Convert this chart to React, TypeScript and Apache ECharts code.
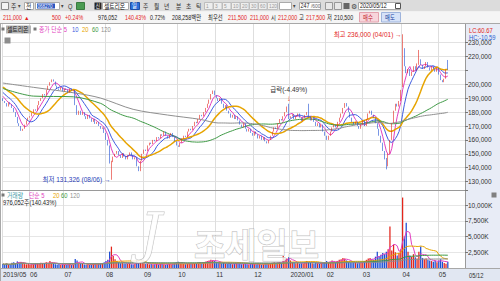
import React, { useEffect, useRef } from "react";
import * as echarts from "echarts";

const RED = "#e3261c";
const BLUE = "#1f4fd3";
const C5 = "#e23fc0";
const C10 = "#3d5be0";
const C20 = "#e7a400";
const C60 = "#3f9a46";
const C120 = "#8f8f8f";
const FONT = 'Liberation Sans, "Noto Sans CJK KR", sans-serif';

// KRX holidays in the period
const holidays = [
  "2019-06-06", "2019-08-15", "2019-09-12", "2019-09-13", "2019-10-03", "2019-10-09",
  "2019-12-25", "2019-12-31", "2020-01-01", "2020-01-24", "2020-01-27", "2020-04-15",
  "2020-04-30", "2020-05-01", "2020-05-05",
];

// closes (thousand KRW) for the 19 sessions before the first shown day (MA warm-up)
const priorCloses = [205, 204, 206, 203, 201, 202, 200, 199, 201, 198, 197, 199, 196, 195, 197, 194, 192, 193, 190];

// daily closes (thousand KRW)
const closesMay19 = [188, 186.5, 184, 187, 185.5, 183, 180, 176.5, 172, 170, 166.5, 168, 171, 174, 176];
const closesJun19 = [177, 179.5, 182, 181, 185, 188, 190, 193, 192, 196, 199, 201.5, 203.5, 202, 199, 197, 196, 198, 195];
const closesJul19 = [197, 196, 194, 197, 195.5, 196, 185, 178, 181, 178, 180, 177, 175, 178, 175.5, 173, 175, 171.5, 173, 170, 168, 169, 165];
const closesAug19 = [160, 156, 143, 144, 148, 150, 152, 149, 147, 150.5, 148, 146, 149, 151, 148.5, 146, 147.5, 141, 137.5, 145, 150];
const closesSep19 = [153, 152, 156, 158, 157, 160, 159, 162, 161, 164, 163, 166, 163, 161, 163.5, 165, 162, 159, 156];
const closesOct19 = [155, 158, 161, 163, 162, 166, 168, 167, 170, 173, 172, 175, 178, 177, 180, 183, 186, 189, 193, 195.5, 192];
const closesNov19 = [190, 188, 190, 186, 183, 185, 181, 179, 176, 178, 175, 177, 174, 171, 169, 172, 168, 166, 168, 165, 163];
const closesDec19 = [166, 164, 161, 163, 160, 162, 159, 157.5, 160, 163, 166, 169, 168, 172, 175, 174, 177, 180, 184, 175.7];
const closesJan20 = [177, 178.5, 175, 177, 179, 176, 173.5, 176, 178, 180, 177, 174, 176, 173, 170, 172, 169, 171, 166, 163];
const closesFeb20 = [160, 163, 166, 169, 171, 169, 173, 176, 179, 183, 186.5, 184, 180, 176, 173, 171, 173, 170, 168, 171];
const closesMar20 = [174, 170, 175, 179, 181, 178, 176, 172, 168, 163, 158, 152, 146, 141, 150, 160, 172, 181, 186, 184, 188, 196];
const closesApr20 = [226, 213, 208, 211, 206, 209, 213, 210, 215, 218, 214, 211, 213, 216, 212, 210, 213, 211, 209, 212];
const closesMay20 = [207, 203, 201.5, 204, 210.5, 211];

// full candles where open/low/high are known: date, open, close, low, high (thousand KRW)
const candleOverrides: [string, number, number, number, number][] = [
  ["2019-08-06", 139, 144, 131.326, 145],
  ["2019-12-30", 184.5, 175.7, 175, 186],
  ["2020-01-16", 180, 177, 176, 186],
  ["2020-03-19", 146, 141, 138.8, 147],
  ["2020-04-01", 200, 226, 198, 236],
  ["2020-04-14", 215, 218, 214, 224.7],
  ["2020-05-12", 212, 211, 210.5, 217.5],
];

// daily volume (thousand shares)
const volMay19 = [620, 540, 700, 480, 560, 820, 900, 760, 1050, 880, 940, 700, 620, 580, 650];
const volJun19 = [520, 610, 580, 700, 760, 680, 820, 740, 690, 900, 780, 1100, 850, 720, 600, 560, 640, 520, 580];
const volJul19 = [500, 460, 540, 610, 480, 520, 1450, 1200, 820, 700, 640, 560, 520, 600, 480, 540, 620, 700, 560, 640, 720, 800, 900];
const volAug19 = [1100, 1300, 2600, 3400, 1900, 1400, 1100, 900, 760, 820, 700, 620, 680, 740, 600, 560, 640, 1200, 1000, 900, 820];
const volSep19 = [760, 640, 700, 580, 620, 540, 600, 680, 560, 620, 700, 580, 520, 600, 640, 560, 700, 820, 900];
const volOct19 = [1000, 760, 700, 640, 600, 680, 740, 620, 700, 800, 760, 860, 920, 780, 900, 1000, 1100, 1200, 1300, 1250, 1100];
const volNov19 = [980, 860, 900, 760, 820, 700, 640, 720, 660, 600, 680, 740, 620, 700, 580, 640, 700, 600, 560, 620, 680];
const volDec19 = [640, 580, 700, 620, 560, 600, 760, 680, 620, 700, 820, 900, 760, 860, 940, 820, 1900, 1300, 1500, 1700];
const volJan20 = [1200, 900, 860, 760, 820, 700, 760, 680, 900, 1100, 1000, 860, 760, 700, 820, 760, 680, 740, 820, 960];
const volFeb20 = [1100, 900, 1000, 1200, 1000, 900, 1100, 1300, 1400, 1600, 1500, 1200, 1000, 900, 800, 860, 900, 760, 820, 900];
const volMar20 = [1000, 1100, 1300, 1500, 1600, 1400, 1300, 1800, 2600, 1900, 2100, 2400, 2200, 2600, 3000, 6600, 2800, 3700, 2500, 2000, 2400, 3000];
const volApr20 = [11200, 5000, 7200, 2600, 2000, 1800, 2200, 1700, 1500, 2600, 3400, 1600, 1400, 1500, 1300, 1200, 1100, 1000, 1200, 900];
const volMay20 = [1200, 1400, 1000, 800, 695, 976.052];

const ma60AnchorIdx = [0, 17, 39, 54];
const ma60AnchorVal = [197, 191.5, 191, 186.3];
const ma120AnchorIdx = [0, 17, 41, 54, 72, 91, 109];
const ma120AnchorVal = [200.9, 197.8, 193.5, 190.1, 182, 177.9, 174.8];

const priceTicks = [130000, 140000, 150000, 160000, 170000, 180000, 190000, 200000, 210000, 220000, 230000];
const priceLabelTicks = [130000, 140000, 150000, 160000, 170000, 180000, 190000, 200000, 220000, 230000];

function tradingDays(): string[] {
  const out: string[] = [];
  const d = new Date(Date.UTC(2019, 4, 13));
  const end = Date.UTC(2020, 4, 12);
  while (d.getTime() <= end) {
    const wd = d.getUTCDay();
    const s = d.toISOString().slice(0, 10);
    if (wd !== 0 && wd !== 6 && holidays.indexOf(s) < 0) out.push(s);
    d.setUTCDate(d.getUTCDate() + 1);
  }
  return out;
}

function buildOption() {
  const dates = tradingDays();
  const closes = [
    ...closesMay19, ...closesJun19, ...closesJul19, ...closesAug19, ...closesSep19, ...closesOct19,
    ...closesNov19, ...closesDec19, ...closesJan20, ...closesFeb20, ...closesMar20, ...closesApr20, ...closesMay20,
  ];
  const vols = [
    ...volMay19, ...volJun19, ...volJul19, ...volAug19, ...volSep19, ...volOct19,
    ...volNov19, ...volDec19, ...volJan20, ...volFeb20, ...volMar20, ...volApr20, ...volMay20,
  ];
  const n = closes.length;
  const cats = dates.slice(0, n);
  const padded = cats.concat(["", "", "", "", "", "", "", "", ""]);

  const ohlc = closes.map((c, i) => {
    const ov = candleOverrides.find((o) => o[0] === cats[i]);
    if (ov) return [ov[1] * 1000, ov[2] * 1000, ov[3] * 1000, ov[4] * 1000];
    const o = i === 0 ? priorCloses[priorCloses.length - 1] : closes[i - 1];
    return [o * 1000, c * 1000, Math.min(o, c) * 1000, Math.max(o, c) * 1000];
  });
  const up = ohlc.map((k) => k[1] >= k[0]);

  const full = priorCloses.concat(closes);
  const p = priorCloses.length;
  const shortMA = (len: number) =>
    closes.map((_, i) => {
      let s = 0;
      for (let k = 0; k < len; k++) s += full[p + i - k];
      return Math.round((s / len) * 1000);
    });
  const longMA = (len: number, aIdx: number[], aVal: number[]) =>
    closes.map((_, i) => {
      if (i >= len - 1) {
        let s = 0;
        for (let k = 0; k < len; k++) s += closes[i - k];
        return Math.round((s / len) * 1000);
      }
      const j = aIdx.indexOf(i);
      return j >= 0 ? aVal[j] * 1000 : null;
    });
  const volMA = (len: number) =>
    vols.map((_, i) => {
      const a = Math.max(0, i - len + 1);
      let s = 0;
      for (let k = a; k <= i; k++) s += vols[k];
      return Math.round((s / (i - a + 1)) * 1000);
    });

  const isMonthStart = (idx: number) =>
    idx < n && (idx === 0 || cats[idx].slice(0, 7) !== cats[idx - 1].slice(0, 7));

  const lastClose = closes[n - 1] * 1000;
  const lastVol = Math.round(vols[n - 1] * 1000);

  const maLine = (name: string, data: any[], color: string, width: number, xi: number, connect = false) => ({
    type: "line",
    name,
    xAxisIndex: xi,
    yAxisIndex: xi,
    data,
    symbol: "none",
    connectNulls: connect,
    smooth: connect ? 0.3 : false,
    lineStyle: { color, width },
    z: 3,
    silent: true,
  });

  const T = (x: number, y: number, text: string, fill: string, size = 7, sx = 0.82, extra: any = {}) => ({
    type: "text",
    x,
    y,
    scaleX: sx,
    z: 50,
    style: { text, fill, fontSize: size, fontFamily: FONT, verticalAlign: "middle", ...extra },
  });
  const R = (x: number, y: number, w: number, h: number, fill: string, stroke?: string, z = 40) => ({
    type: "rect",
    shape: { x, y, width: w, height: h },
    z,
    style: { fill, stroke: stroke || null, lineWidth: stroke ? 1 : 0 },
  });

  const graphics: any[] = [
    // backgrounds
    R(0, 0, 500, 11.5, "#dcdcdc", undefined, -5),
    R(0, 11.5, 500, 12, "#f5f5f5", undefined, -5),
    R(465, 24, 35, 244, "#e8ecf6", undefined, -5),
    R(0, 268.5, 500, 12.5, "#e1e7f2", undefined, -5),
    { type: "line", shape: { x1: 0, y1: 23.5, x2: 500, y2: 23.5 }, z: 45, style: { stroke: "#a8a8a8", lineWidth: 1 } },
    { type: "line", shape: { x1: 0, y1: 190.5, x2: 465, y2: 190.5 }, z: 45, style: { stroke: "#9a9a9a", lineWidth: 1 } },
    { type: "line", shape: { x1: 0, y1: 268.5, x2: 500, y2: 268.5 }, z: 45, style: { stroke: "#a8a8a8", lineWidth: 1 } },
    { type: "line", shape: { x1: 0.5, y1: 23.5, x2: 0.5, y2: 281 }, z: 45, style: { stroke: "#a8a8a8", lineWidth: 1 } },

    // toolbar row 1
    R(1.5, 2.5, 7, 7, "#f4f4f4", "#8a8a8a"),
    T(11, 6, "주", "#222", 7),
    T(18, 6, "▾", "#444", 6),
    R(24.5, 2.5, 9, 7, "#ffffff", "#aaaaaa"),
    T(26, 6, "전", "#222", 7),
    R(35.5, 2.5, 24, 7, "#ffffff", "#aaaaaa"),
    R(37, 3.5, 18, 5, "#2b55c0"),
    T(37.5, 6, "068270", "#ffffff", 6, 0.75),
    T(61, 6, "▾", "#444", 6),
    T(68, 6, "Q", "#333", 7),
    R(76.5, 2.5, 8, 7, "#4a9b52", "#3a7a40"),
    R(94.5, 2.5, 7, 7, "#222222"),
    T(95.5, 6, "신", "#ffffff", 6, 0.85),
    R(102.5, 2.5, 26, 7, "#ffffff", "#aaaaaa"),
    T(104, 6, "셀트리온", "#111", 7),
    R(130.5, 2.5, 9, 7, "#2e6fd8", "#2050a8"),
    T(132, 6, "일", "#ffffff", 6.5),
    T(143, 6, "주", "#333", 7),
    T(154, 6, "월", "#333", 7),
    T(164, 6, "년", "#333", 7),
    T(176, 6, "분", "#333", 7),
    T(186, 6, "초", "#333", 7),
    T(196, 6, "틱", "#333", 7),
    ...[["1", 204], ["3", 213], ["5", 222], ["10", 231], ["20", 240], ["30", 249], ["60", 258], ["120", 267]].flatMap(
      ([t, x]: any) => [R(x + 0.5, 2.5, t.length > 2 ? 10 : 8.5, 7, "#eeeeee", "#bdbdbd"), T(x + 2, 6, t, "#9a9a9a", 6, 0.8)]
    ),
    R(279.5, 2.5, 12, 7, "#ffffff", "#aaaaaa"),
    T(293, 6, "▾", "#444", 6),
    R(299.5, 2.5, 21, 7, "#ffffff", "#aaaaaa"),
    T(300.5, 6, "247", "#222", 6.5),
    T(311, 6, "/600", "#666", 6),
    R(325.5, 2.5, 7, 7, "#e8e8e8", "#999"),
    R(334.5, 2.5, 7, 7, "#e8e8e8", "#999"),
    R(343.5, 3, 6, 6, "#666666"),
    T(351, 6, "⚙", "#444", 7, 1),
    R(358.5, 2.5, 42, 7, "#ffffff", "#aaaaaa"),
    T(360, 6, "2020/05/12", "#111", 6.5),
    R(395.5, 3.5, 5, 5, "#ffffff", "#555"),

    // toolbar row 2
    T(3, 17.5, "211,000", RED, 6.5),
    T(24, 17.5, "▲", RED, 5.5, 1),
    T(52, 17.5, "500", RED, 6.5),
    T(65, 17.5, "+0.24%", RED, 6.5),
    T(98, 17.5, "976,052", "#222", 6.5),
    T(125, 17.5, "140.43%", RED, 6.5),
    T(150, 17.5, "0.72%", "#222", 6.5),
    T(172, 17.5, "208,258백만", "#222", 6.5),
    T(208, 17.5, "최우선", "#222", 6.5),
    T(228, 17.5, "211,500", RED, 6.5),
    T(250, 17.5, "211,000", RED, 6.5),
    T(271, 17.5, "시", "#222", 6.5),
    T(278, 17.5, "212,000", RED, 6.5),
    T(299, 17.5, "고", "#222", 6.5),
    T(306, 17.5, "217,500", RED, 6.5),
    T(327, 17.5, "저", "#222", 6.5),
    T(334, 17.5, "210,500", "#222", 6.5),
    R(359.5, 12.5, 19, 9.5, "#f7d5db", "#e3a2ae"),
    T(363, 17.5, "매수", "#c4202c", 6.5),
    R(381.5, 12.5, 19, 9.5, "#d6e2f8", "#9fb4dc"),
    T(385, 17.5, "매도", "#2040a0", 6.5),

    // price pane legend
    R(1.5, 27.5, 3, 3, "#777"),
    R(6, 25.5, 25, 8, "#b4b4b4"),
    T(7, 29.5, "셀트리온", "#222", 6.5, 0.9),
    R(33.5, 27.5, 3, 3, "#777"),
    T(39, 29.5, "종가 단순 5", C5, 6.5, 0.9),
    T(72, 29.5, "10", C10, 6.5, 0.9),
    T(82, 29.5, "20", C20, 6.5, 0.9),
    T(92, 29.5, "60", C60, 6.5, 0.9),
    T(101, 29.5, "120", C120, 6.5, 0.9),
    R(4.5, 37.5, 6, 6, "#8c8c8c"),

    // right axis texts
    T(469, 30, "LC:60.67", RED, 6.5, 0.9),
    T(469, 37, "HC:-10.59", "#2a5fd0", 6.5, 0.9),
    T(469, 275, "05/12", "#333", 6.5, 0.9),
    R(491.5, 192.5, 5, 5, "#808080"),

    // volume pane legend
    R(1.5, 193.5, 3, 3, "#777"),
    T(7, 195, "거래량", "#3a9aa8", 6.5, 0.9),
    T(29, 195, "단순 5", C5, 6.5, 0.9),
    T(53, 195, "20", C20, 6.5, 0.9),
    T(61, 195, "60", C60, 6.5, 0.9),
    T(70, 195, "120", C120, 6.5, 0.9),
    T(3, 202.5, "976,052주(140.43%)", "#222", 6.5, 0.9),

    // watermark
    {
      type: "text",
      x: 140,
      y: 233,
      z: 60,
      style: {
        text: "J",
        fill: "rgba(255,255,255,0.8)",
        stroke: "rgba(140,140,140,0.55)",
        lineWidth: 1,
        fontSize: 54,
        fontStyle: "italic",
        fontFamily: "DejaVu Serif, serif",
        verticalAlign: "middle",
      },
    },
    {
      type: "text",
      x: 194,
      y: 243,
      z: 60,
      style: {
        text: "조세일보",
        fill: "rgba(255,255,255,0.82)",
        stroke: "rgba(140,140,140,0.6)",
        lineWidth: 1,
        fontSize: 34,
        fontWeight: "bold",
        fontFamily: '"Noto Sans CJK KR", sans-serif',
        verticalAlign: "middle",
      },
    },
  ];

  const splitX = { show: true, interval: (i: number) => isMonthStart(i), lineStyle: { color: "#dedede", width: 1 } };

  return {
    animation: false,
    backgroundColor: "#ffffff",
    textStyle: { fontFamily: FONT },
    grid: [
      { left: 2, right: 35, top: 24, height: 166, containLabel: false, outerBoundsMode: "none" },
      { left: 2, right: 35, top: 190, height: 78, containLabel: false, outerBoundsMode: "none" },
    ],
    xAxis: [
      {
        type: "category",
        gridIndex: 0,
        data: padded,
        boundaryGap: true,
        axisLine: { show: false },
        axisTick: { show: false },
        axisLabel: { show: false },
        splitLine: splitX,
      },
      {
        type: "category",
        gridIndex: 1,
        data: padded,
        boundaryGap: true,
        axisLine: { show: false },
        axisTick: { show: false },
        axisLabel: {
          show: true,
          interval: (i: number) => isMonthStart(i),
          formatter: (v: string, i: number) =>
            i === 0 ? "2019/05" : v.slice(5, 7) === "01" ? v.slice(0, 4) + "/01" : v.slice(5, 7),
          align: "left",
          fontSize: 6.5,
          color: "#333",
          margin: 3,
          fontFamily: FONT,
        },
        splitLine: splitX,
      },
    ],
    yAxis: [
      {
        type: "value",
        gridIndex: 0,
        position: "right",
        min: 123960,
        max: 243380,
        axisLine: { show: true, lineStyle: { color: "#9a9a9a" } },
        axisTick: { show: true, customValues: priceTicks, length: 3, lineStyle: { color: "#777" } },
        axisLabel: {
          customValues: priceLabelTicks,
          formatter: (v: number) => v.toLocaleString("en-US"),
          fontSize: 6.5,
          color: "#333",
          margin: 3,
          fontFamily: FONT,
        },
        splitLine: { show: true, lineStyle: { color: "#e2e2e2" } },
      },
      {
        type: "value",
        gridIndex: 1,
        position: "right",
        min: 0,
        max: 12400000,
        interval: 2500000,
        axisLine: { show: true, lineStyle: { color: "#9a9a9a" } },
        axisTick: { show: true, length: 3, lineStyle: { color: "#777" } },
        axisLabel: {
          formatter: (v: number) => (v === 0 || v > 10000000 ? "" : (v / 1000).toLocaleString("en-US") + "K"),
          fontSize: 6.5,
          color: "#333",
          margin: 3,
          fontFamily: FONT,
        },
        splitLine: { show: true, lineStyle: { color: "#e6e6e6" } },
      },
    ],
    series: [
      {
        type: "candlestick",
        xAxisIndex: 0,
        yAxisIndex: 0,
        data: ohlc,
        barWidth: "62%",
        itemStyle: { color: RED, color0: BLUE, borderColor: RED, borderColor0: BLUE, borderWidth: 0.6 },
        z: 4,
        silent: true,
        markPoint: {
          symbol: "circle",
          symbolSize: 0,
          silent: true,
          data: [
            {
              coord: ["2019-08-06", 131326],
              label: { show: true, position: "left", distance: 1, formatter: "최저 131,326 (08/06) →", color: "#2a3fb8", fontSize: 6.5, fontFamily: FONT },
            },
            {
              coord: ["2020-04-01", 236000],
              label: { show: true, position: "left", distance: 1, formatter: "최고 236,000 (04/01) →", color: RED, fontSize: 6.5, fontFamily: FONT },
            },
            {
              coord: ["2019-12-30", 186000],
              label: {
                show: true,
                position: "top",
                distance: 1,
                formatter: "{t|급락(-4.49%)}\n{a|↓}",
                rich: {
                  t: { color: "#333", fontSize: 6.5, fontFamily: FONT, lineHeight: 9 },
                  a: { color: RED, fontSize: 8, fontFamily: FONT, lineHeight: 9, align: "center" },
                },
                align: "center",
              },
            },
          ],
        },
        markLine: {
          symbol: ["none", "none"],
          silent: true,
          lineStyle: { opacity: 0 },
          data: [
            {
              yAxis: lastClose,
              label: {
                show: true,
                position: "end",
                distance: 2,
                formatter: "{e|}\n{b|" + lastClose.toLocaleString("en-US") + "}\n{p|0.24%}",
                rich: {
                  e: { height: 7, lineHeight: 7, fontSize: 6 },
                  b: { backgroundColor: RED, color: "#fff", fontSize: 6.5, padding: [1, 3, 1, 3], fontFamily: FONT, width: 25 },
                  p: { color: RED, fontSize: 6, lineHeight: 7, fontFamily: FONT },
                },
              },
            },
          ],
        },
      },
      maLine("MA5", shortMA(5), C5, 1, 0),
      maLine("MA10", shortMA(10), C10, 1, 0),
      maLine("MA20", shortMA(20), C20, 1.5, 0),
      maLine("MA60", longMA(60, ma60AnchorIdx, ma60AnchorVal), C60, 1, 0, true),
      maLine("MA120", longMA(120, ma120AnchorIdx, ma120AnchorVal), C120, 1, 0, true),
      {
        type: "bar",
        xAxisIndex: 1,
        yAxisIndex: 1,
        data: vols.map((v, i) => ({ value: Math.round(v * 1000), itemStyle: { color: up[i] ? RED : BLUE } })),
        barWidth: "70%",
        z: 2,
        silent: true,
        markLine: {
          symbol: ["none", "none"],
          silent: true,
          lineStyle: { opacity: 0 },
          data: [
            {
              yAxis: lastVol,
              label: {
                show: true,
                position: "end",
                distance: 2,
                formatter: "{e|}\n{b|" + lastVol.toLocaleString("en-US") + "}\n{p|140.43%}",
                rich: {
                  e: { height: 7, lineHeight: 7, fontSize: 6 },
                  b: { backgroundColor: RED, color: "#fff", fontSize: 6.5, padding: [1, 3, 1, 3], fontFamily: FONT, width: 25 },
                  p: { color: RED, fontSize: 6, lineHeight: 7, fontFamily: FONT },
                },
              },
            },
          ],
        },
      },
      maLine("VMA5", volMA(5), C5, 1, 1),
      maLine("VMA20", volMA(20), C20, 1, 1),
      maLine("VMA60", volMA(60), C60, 1, 1),
      maLine("VMA120", volMA(120), C120, 1, 1),
    ],
    graphic: { elements: graphics },
  };
}

export default function App() {
  const ref = useRef<HTMLDivElement>(null);
  useEffect(() => {
    if (!ref.current) return;
    const chart = echarts.init(ref.current, null, { renderer: "svg", width: 500, height: 281 });
    chart.setOption(buildOption() as any);
    return () => chart.dispose();
  }, []);
  return <div ref={ref} style={{ width: 500, height: 281, position: "absolute", left: 0, top: 0 }} />;
}
